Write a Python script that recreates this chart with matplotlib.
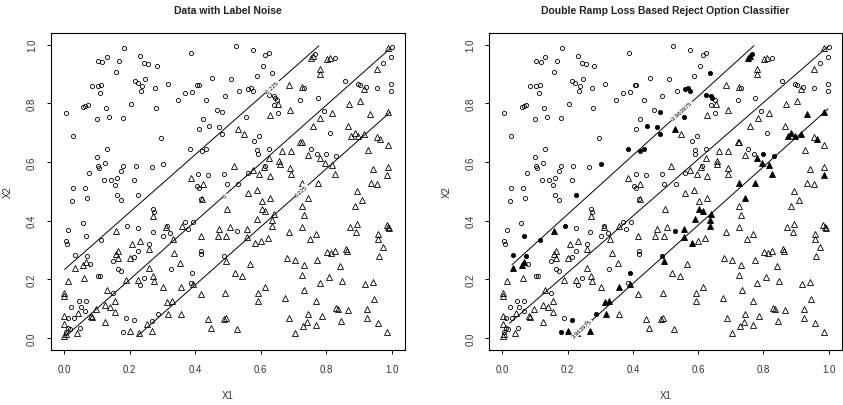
import matplotlib
matplotlib.use("Agg")
import matplotlib.pyplot as plt
import numpy as np

# circles (class -1): x1, x2, and whether the reject-option classifier rejects it
circ_x = [0.005, 0.027, 0.184, 0.524, 0.388, 0.576, 0.624, 0.614, 0.231, 0.131,
          0.103, 0.117, 0.168, 0.244, 0.255, 0.282, 0.606, 0.157, 0.635, 0.451,
          0.588, 0.510, 0.247, 0.215, 0.224, 0.238, 0.236, 0.086, 0.104, 0.114,
          0.111, 0.276, 0.316, 0.406, 0.411, 0.535, 0.560, 0.570, 0.576, 0.490,
          0.370, 0.391, 0.347, 0.434, 0.625, 0.639, 0.642, 0.651, 0.639, 0.653,
          0.074, 0.059, 0.065, 0.204, 0.129, 0.279, 0.137, 0.101, 0.180, 0.465,
          0.483, 0.556, 0.423, 0.442, 0.411, 0.474, 0.483, 0.296, 0.595, 0.580,
          0.385, 0.434, 0.421, 0.130, 0.100, 0.589, 0.591, 0.625, 0.104, 0.106,
          0.126, 0.303, 0.218, 0.267, 0.179, 0.174, 0.162, 0.156, 0.077, 0.123,
          0.142, 0.214, 0.410, 0.439, 0.488, 0.561, 0.496, 0.404, 0.411, 0.531,
          0.028, 0.063, 0.025, 0.070, 0.162, 0.174, 0.225, 0.419, 0.271, 0.274,
          0.057, 0.370, 0.379, 0.393, 0.013, 0.192, 0.225, 0.313, 0.323, 0.302,
          0.270, 0.529, 0.005, 0.008, 0.066, 0.114, 0.258, 0.033, 0.071, 0.080,
          0.225, 0.214, 0.418, 0.418, 0.489, 0.150, 0.163, 0.173, 0.326, 0.102,
          0.108, 0.244, 0.233, 0.390, 0.386, 0.150, 0.045, 0.067, 0.022, 0.051,
          0.065, 0.029, 0.011, 0.049, 0.017, 0.190, 0.212, 0.181, 0.286, 0.268,
          1.000, 0.998, 0.972, 0.954, 0.998, 0.998, 0.897, 0.903, 0.920, 0.858,
          0.826, 0.775, 0.721, 0.794, 0.812, 0.753, 0.772, 0.800, 0.831, 0.731,
          0.766, 0.612, 0.012, 0.005]
circ_y = [0.766, 0.689, 0.990, 0.997, 0.973, 0.981, 0.972, 0.965, 0.961, 0.959,
          0.944, 0.942, 0.944, 0.937, 0.934, 0.928, 0.928, 0.906, 0.904, 0.887,
          0.894, 0.882, 0.883, 0.875, 0.868, 0.859, 0.841, 0.860, 0.858, 0.862,
          0.836, 0.852, 0.866, 0.862, 0.862, 0.843, 0.850, 0.854, 0.841, 0.826,
          0.836, 0.838, 0.810, 0.813, 0.829, 0.825, 0.817, 0.811, 0.796, 0.768,
          0.796, 0.788, 0.791, 0.797, 0.785, 0.785, 0.755, 0.746, 0.749, 0.778,
          0.771, 0.752, 0.746, 0.722, 0.714, 0.718, 0.697, 0.683, 0.689, 0.672,
          0.646, 0.645, 0.637, 0.644, 0.617, 0.640, 0.628, 0.644, 0.587, 0.580,
          0.595, 0.594, 0.588, 0.582, 0.585, 0.569, 0.547, 0.522, 0.562, 0.537,
          0.537, 0.540, 0.560, 0.556, 0.560, 0.562, 0.524, 0.518, 0.513, 0.524,
          0.510, 0.510, 0.466, 0.479, 0.489, 0.471, 0.488, 0.475, 0.440, 0.428,
          0.393, 0.397, 0.372, 0.394, 0.367, 0.382, 0.375, 0.383, 0.359, 0.348,
          0.363, 0.364, 0.330, 0.322, 0.347, 0.333, 0.319, 0.283, 0.278, 0.251,
          0.298, 0.275, 0.296, 0.287, 0.280, 0.262, 0.234, 0.229, 0.234, 0.213,
          0.210, 0.205, 0.182, 0.223, 0.188, 0.155, 0.127, 0.125, 0.107, 0.107,
          0.093, 0.068, 0.068, 0.033, 0.031, 0.068, 0.060, 0.022, 0.082, 0.057,
          0.993, 0.958, 0.937, 0.853, 0.867, 0.843, 0.865, 0.862, 0.857, 0.877,
          0.955, 0.817, 0.811, 0.774, 0.699, 0.646, 0.626, 0.626, 0.621, 0.851,
          0.969, 0.585, 0.035, 0.020]
circ_rej = [0, 0, 0, 0, 0, 0, 0, 0, 0, 0,
            0, 0, 0, 0, 0, 0, 0, 0, 1, 0,
            0, 0, 0, 0, 0, 0, 0, 0, 0, 0,
            0, 0, 0, 0, 0, 0, 1, 1, 1, 0,
            0, 0, 0, 0, 1, 1, 1, 0, 0, 0,
            0, 0, 0, 0, 0, 0, 0, 0, 0, 0,
            1, 1, 0, 1, 0, 1, 1, 0, 0, 0,
            1, 1, 1, 0, 0, 0, 0, 0, 0, 0,
            0, 1, 0, 0, 0, 0, 0, 0, 0, 0,
            0, 0, 0, 0, 0, 0, 0, 0, 0, 0,
            0, 0, 0, 0, 0, 0, 1, 0, 0, 0,
            0, 0, 0, 0, 0, 1, 0, 0, 0, 0,
            0, 1, 0, 0, 1, 1, 0, 1, 1, 0,
            0, 0, 0, 0, 1, 0, 0, 0, 0, 0,
            0, 0, 0, 1, 0, 0, 0, 0, 0, 0,
            0, 0, 0, 0, 0, 0, 1, 1, 1, 1,
            0, 0, 0, 0, 0, 0, 0, 0, 0, 0,
            0, 0, 0, 0, 0, 0, 0, 1, 1, 0,
            1, 0, 0, 0]

# triangles (class +1)
tri_x = [0.987, 0.955, 0.752, 0.760, 0.802, 0.810, 0.780, 0.781, 0.685, 0.725,
         0.916, 0.628, 0.654, 0.690, 0.868, 0.902, 0.933, 0.987, 0.760, 0.782,
         0.817, 0.865, 0.875, 0.886, 0.898, 0.915, 0.955, 0.964, 0.987, 0.927,
         0.530, 0.549, 0.691, 0.721, 0.725, 0.745, 0.781, 0.797, 0.818, 0.825,
         0.690, 0.691, 0.725, 0.775, 0.744, 0.725, 0.731, 0.726, 0.749, 0.769,
         0.942, 0.987, 0.986, 0.935, 0.955, 0.895, 0.909, 0.886, 0.872, 0.895,
         0.892, 0.958, 0.959, 0.984, 0.988, 0.992, 0.974, 0.962, 0.801, 0.814,
         0.826, 0.860, 0.864, 0.773, 0.731, 0.809, 0.842, 0.725, 0.781, 0.847,
         0.919, 0.943, 0.946, 0.924, 0.830, 0.835, 0.867, 0.768, 0.733, 0.675,
         0.704, 0.680, 0.685, 0.744, 0.740, 0.767, 0.728, 0.786, 0.687, 0.705,
         0.845, 0.923, 0.957, 0.986, 0.576, 0.517, 0.596, 0.561, 0.588, 0.603,
         0.627, 0.657, 0.659, 0.665, 0.609, 0.625, 0.627, 0.603, 0.614, 0.640,
         0.635, 0.635, 0.589, 0.558, 0.558, 0.581, 0.601, 0.622, 0.566, 0.521,
         0.543, 0.614, 0.593, 0.593, 0.527, 0.491, 0.493, 0.487, 0.440, 0.448,
         0.417, 0.357, 0.317, 0.328, 0.314, 0.358, 0.301, 0.392, 0.417, 0.421,
         0.423, 0.386, 0.497, 0.474, 0.469, 0.494, 0.505, 0.494, 0.312, 0.331,
         0.335, 0.355, 0.359, 0.271, 0.258, 0.260, 0.272, 0.274, 0.269, 0.254,
         0.228, 0.200, 0.231, 0.206, 0.201, 0.225, 0.188, 0.164, 0.158, 0.164,
         0.158, 0.130, 0.124, 0.140, 0.154, 0.156, 0.124, 0.096, 0.081, 0.085,
         0.062, 0.059, 0.033, 0.067, 0.013, 0.001, 0.001, 0.001, 0.001, 0.001,
         0.006, 0.038, 0.041]
tri_y = [0.990, 0.916, 0.955, 0.962, 0.951, 0.955, 0.916, 0.899, 0.862, 0.857,
         0.849, 0.759, 0.797, 0.779, 0.797, 0.807, 0.765, 0.769, 0.722, 0.749,
         0.766, 0.722, 0.690, 0.699, 0.689, 0.694, 0.687, 0.678, 0.658, 0.640,
         0.711, 0.695, 0.638, 0.669, 0.667, 0.625, 0.614, 0.598, 0.589, 0.559,
         0.578, 0.559, 0.529, 0.529, 0.478, 0.451, 0.419, 0.378, 0.337, 0.353,
         0.575, 0.582, 0.555, 0.530, 0.524, 0.500, 0.469, 0.449, 0.379, 0.389,
         0.362, 0.355, 0.339, 0.385, 0.379, 0.375, 0.309, 0.280, 0.294, 0.289,
         0.296, 0.303, 0.298, 0.266, 0.250, 0.207, 0.245, 0.216, 0.189, 0.193,
         0.183, 0.190, 0.132, 0.099, 0.102, 0.100, 0.096, 0.125, 0.162, 0.135,
         0.265, 0.273, 0.362, 0.082, 0.053, 0.043, 0.042, 0.074, 0.068, 0.016,
         0.057, 0.068, 0.051, 0.020, 0.572, 0.585, 0.559, 0.495, 0.503, 0.466,
         0.479, 0.604, 0.592, 0.637, 0.582, 0.614, 0.554, 0.441, 0.432, 0.423,
         0.402, 0.381, 0.405, 0.373, 0.344, 0.324, 0.329, 0.341, 0.251, 0.220,
         0.212, 0.174, 0.154, 0.126, 0.031, 0.152, 0.068, 0.064, 0.064, 0.035,
         0.149, 0.083, 0.083, 0.126, 0.124, 0.173, 0.173, 0.183, 0.347, 0.475,
         0.524, 0.547, 0.440, 0.370, 0.349, 0.349, 0.380, 0.262, 0.378, 0.339,
         0.291, 0.257, 0.383, 0.417, 0.303, 0.239, 0.210, 0.193, 0.023, 0.049,
         0.017, 0.024, 0.332, 0.321, 0.272, 0.199, 0.199, 0.296, 0.288, 0.271,
         0.364, 0.164, 0.114, 0.106, 0.127, 0.088, 0.055, 0.098, 0.075, 0.071,
         0.206, 0.250, 0.240, 0.259, 0.193, 0.152, 0.142, 0.075, 0.046, 0.007,
         0.015, 0.017, 0.086]
tri_rej = [0, 0, 1, 1, 0, 0, 0, 0, 0, 0,
           0, 0, 0, 0, 0, 0, 1, 1, 0, 0,
           0, 0, 1, 1, 1, 1, 0, 1, 0, 0,
           1, 0, 0, 0, 0, 0, 1, 1, 1, 1,
           0, 0, 1, 1, 1, 0, 0, 0, 0, 0,
           0, 0, 1, 0, 0, 0, 0, 0, 0, 0,
           0, 0, 0, 0, 0, 0, 0, 0, 0, 0,
           0, 0, 0, 0, 0, 0, 0, 0, 0, 0,
           0, 0, 0, 0, 0, 0, 0, 0, 0, 0,
           0, 0, 0, 0, 0, 0, 0, 0, 0, 0,
           0, 0, 0, 0, 0, 0, 0, 0, 0, 0,
           0, 0, 0, 0, 0, 0, 0, 1, 1, 1,
           1, 1, 1, 1, 1, 1, 0, 0, 0, 0,
           0, 0, 0, 0, 0, 0, 0, 0, 0, 0,
           0, 0, 1, 1, 1, 1, 0, 1, 0, 0,
           0, 0, 0, 0, 0, 0, 0, 1, 0, 0,
           0, 0, 0, 0, 0, 0, 0, 0, 1, 0,
           1, 1, 0, 0, 0, 0, 0, 0, 0, 0,
           1, 0, 0, 0, 0, 0, 0, 0, 0, 0,
           0, 1, 1, 1, 0, 0, 0, 0, 0, 0,
           0, 0, 0]

# boundary lines: start x, end x, slope, intercept, contour label
left_lines = {
    "x0": [0.002, 0.006, 0.226],
    "x1": [0.777, 0.994, 0.994],
    "slope": [0.983, 0.991, 0.990],
    "icpt": [0.232, 0.001, -0.215],
    "label": ["-0.225", "0", "0.225"],
    "lab_x": [0.635, 0.49, 0.725],
}
right_lines = {
    "x0": [0.030, 0.022, 0.228],
    "x1": [0.771, 0.998, 0.998],
    "slope": [1.007, 0.967, 0.996],
    "icpt": [0.220, 0.029, -0.213],
    "label": ["-3.963975", "", "3.963975"],
    "lab_x": [0.55, 0.5, 0.245],
}

ticks = [0.0, 0.2, 0.4, 0.6, 0.8, 1.0]
tick_labels = ["0.0", "0.2", "0.4", "0.6", "0.8", "1.0"]

plt.rcParams['font.family'] = ['Liberation Sans', 'DejaVu Sans']
TXT = '#333333'


def draw_panel(ax, title, lines, show_rej):
    cx, cy = np.array(circ_x), np.array(circ_y)
    tx, ty = np.array(tri_x), np.array(tri_y)
    crej = np.array(circ_rej, dtype=bool)
    trej = np.array(tri_rej, dtype=bool)

    for i in range(3):
        xs = np.array([lines["x0"][i], lines["x1"][i]])
        ax.plot(xs, lines["slope"][i] * xs + lines["icpt"][i], color='black', lw=0.7, zorder=1)

    if show_rej:
        ax.plot(cx[~crej], cy[~crej], 'o', ms=3.0, mfc='none', mec='black', mew=0.6, zorder=2)
        ax.plot(cx[crej], cy[crej], 'o', ms=3.0, mfc='black', mec='black', mew=0.6, zorder=2)
        ax.plot(tx[~trej], ty[~trej], '^', ms=3.8, mfc='none', mec='black', mew=0.6, zorder=2)
        ax.plot(tx[trej], ty[trej], '^', ms=3.8, mfc='black', mec='black', mew=0.6, zorder=2)
    else:
        ax.plot(cx, cy, 'o', ms=3.0, mfc='none', mec='black', mew=0.6, zorder=2)
        ax.plot(tx, ty, '^', ms=3.8, mfc='none', mec='black', mew=0.6, zorder=2)

    # contour labels sit on the lines
    for i in range(3):
        if not lines["label"][i]:
            continue
        lx = lines["lab_x"][i]
        ly = lines["slope"][i] * lx + lines["icpt"][i]
        ax.text(lx, ly, lines["label"][i], fontsize=4.3, rotation=42, ha='center', va='center',
                color='black', zorder=3,
                bbox=dict(facecolor='white', edgecolor='none', pad=0.4))

    ax.set_xlim(-0.04, 1.04)
    ax.set_ylim(-0.04, 1.04)
    ax.set_xticks(ticks)
    ax.set_xticklabels(tick_labels)
    ax.set_yticks(ticks)
    ax.set_yticklabels(tick_labels, rotation=90, va='center')
    ax.tick_params(direction='out', length=3, width=0.7, labelsize=7, colors='black',
                   labelcolor=TXT)
    ax.tick_params(axis='x', pad=7.5)
    ax.tick_params(axis='y', pad=7)
    for s in ax.spines.values():
        s.set_linewidth(0.8)
    ax.set_xlabel("X1", fontsize=7, color=TXT, labelpad=11)
    ax.set_ylabel("X2", fontsize=7, color=TXT, labelpad=10)
    ax.set_title(title, fontsize=7.5, fontweight='bold', color='#222222', pad=14.5)


fig = plt.figure(figsize=(8.43, 4.06), dpi=100)
ax1 = fig.add_axes([0.0605, 0.1362, 0.4199, 0.7801])
ax2 = fig.add_axes([0.5804, 0.1362, 0.4181, 0.7801])

draw_panel(ax1, "Data with Label Noise", left_lines, False)
draw_panel(ax2, "Double Ramp Loss Based Reject Option Classifier", right_lines, True)

fig.savefig("out.png", dpi=100)
